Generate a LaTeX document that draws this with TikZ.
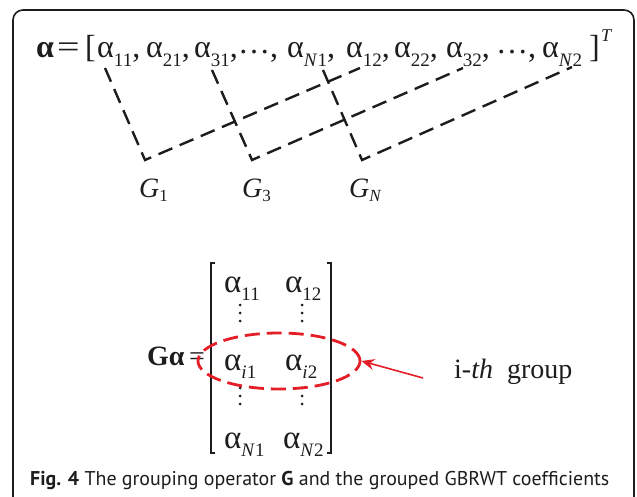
\documentclass[tikz,border=0pt]{standalone}
\usepackage{fontspec}
\setmainfont{Liberation Serif}
\newfontfamily\capfont{PT Sans}
\usetikzlibrary{arrows.meta,shapes.geometric}
\definecolor{ired}{RGB}{228,30,38}
\definecolor{ink}{RGB}{30,28,30}
\newcommand\al[1]{α\raisebox{-8.5pt}{\fontsize{19}{19}\selectfont #1}}
\newcommand\mal[1]{α\raisebox{-8pt}{\fontsize{19}{19}\selectfont #1}}
\newcommand\gl[1]{\textit{G}\raisebox{-5pt}{\fontsize{17}{17}\selectfont #1}}
\begin{document}
\begin{tikzpicture}[x=1pt,y=-1pt,
  eq/.style={anchor=base west, inner sep=0pt, text=ink, font=\fontsize{32}{34}\selectfont},
  meq/.style={anchor=base west, inner sep=0pt, text=ink, font=\fontsize{33}{35}\selectfont},
  glab/.style={anchor=base west, inner sep=0pt, text=ink, font=\fontsize{28}{30}\selectfont},
  grp/.style={draw=ink, line width=2.4pt, dash pattern=on 15pt off 8pt},
  brk/.style={draw=ink, line width=1.4pt},
  vdot/.style={fill=ink},
  sel/.style={draw=ired, line width=2.8pt, dash pattern=on 15pt off 7pt},
  pointer/.style={draw=ired, line width=1.6pt, -{Stealth[length=13pt,width=11pt]}}]
\useasboundingbox (0,0) rectangle (637,497);
\begin{scope}
\clip (0,0) rectangle (637,497);
\draw[line width=1.6pt, draw=ink, rounded corners=10pt] (13,10) rectangle (634,512);
\end{scope}
% top vector
\node[eq] (va) at (36,58) {\textbf{α}};
\node[eq] (veq) at (57,58) {\scalebox{1.25}[1]{=}};
\node[eq] (lb) at (85,58) {[};
\node[eq] (t11) at (97,58) {\al{11},};
\node[eq] (t21) at (146,58) {\al{21},};
\node[eq] (t31) at (194,58) {\al{31},};
\node[eq] (d1) at (238,54) {…};
\node[eq] (c1) at (270,58) {,};
\node[eq] (tN1) at (287,58) {\al{\textit{N}1},};
\node[eq] (t12) at (346,58) {\al{12},};
\node[eq] (t22) at (394,58) {\al{22},};
\node[eq] (t32) at (446,58) {\al{32},};
\node[eq] (d2) at (496,54) {…};
\node[eq] (c2) at (528,58) {,};
\node[eq] (tN2) at (542,58) {\al{\textit{N}2}};
\node[eq] (rb) at (589,58) {]};
\node[anchor=base west, inner sep=0pt, text=ink, font=\fontsize{18}{18}\selectfont] (sT) at (601,42) {\textit{T}};
% grouping lines
\coordinate (a11) at (105,68);
\coordinate (a31) at (212,70);
\coordinate (aN1) at (323,70);
\coordinate (a12) at (360,68);
\coordinate (a32) at (463,68);
\coordinate (aN2) at (572,67);
\coordinate (g1) at (145,160);
\coordinate (g3) at (252,160);
\coordinate (gN) at (362,160);
\draw[grp] (a11) -- (g1) -- (a12);
\draw[grp] (a31) -- (g3) -- (a32);
\draw[grp] (aN1) -- (gN) -- (aN2);
\node[glab] (G1) at (139,197) {\gl{1}};
\node[glab] (G3) at (242,197) {\gl{3}};
\node[glab] (GN) at (349,197) {\gl{\textit{N}}};
% matrix
\node[anchor=base west, inner sep=0pt, text=ink, font=\fontsize{28}{30}\selectfont] (Ga) at (147,365) {\textbf{Gα}};
\node[anchor=base west, inner sep=0pt, text=ink, font=\fontsize{28}{30}\selectfont] (meq2) at (189,365) {=};
\draw[brk] (215,263) -- (211,263) -- (211,453) -- (215,453);
\draw[brk] (327,263) -- (331,263) -- (331,453) -- (327,453);
\node[meq] (m11) at (224,292) {\mal{11}};
\node[meq] (m12) at (285,292) {\mal{12}};
\node[meq] (mi1) at (224,370) {\mal{\textit{i}1}};
\node[meq] (mi2) at (285,370) {\mal{\textit{i}2}};
\node[meq] (mN1) at (224,448) {\mal{\textit{N}1}};
\node[meq] (mN2) at (283,448) {\mal{\textit{N}2}};
\foreach \x in {240,302} {
  \foreach \y in {305,313,321,388,396,404} {
    \fill[vdot] (\x,\y) circle (1.5pt);
  }
}
% selection ellipse and pointer
\node[sel, ellipse, minimum width=162pt, minimum height=56pt, inner sep=0pt] (ring) at (279,361) {};
\node[anchor=base west, inner sep=0pt, text=ink, font=\fontsize{28}{30}\selectfont] (lab) at (454,378) {i-\textit{th}\ \ group};
\coordinate (tail) at (423,378);
\draw[pointer] (tail) -- (ring.east);
% caption
\node[anchor=base west, inner sep=0pt, text=ink] (cap) at (30,485) {\resizebox{579pt}{!}{\capfont\textbf{Fig. 4} The grouping operator \textbf{G} and the grouped GBRWT coefficients}};
\end{tikzpicture}
\end{document}
